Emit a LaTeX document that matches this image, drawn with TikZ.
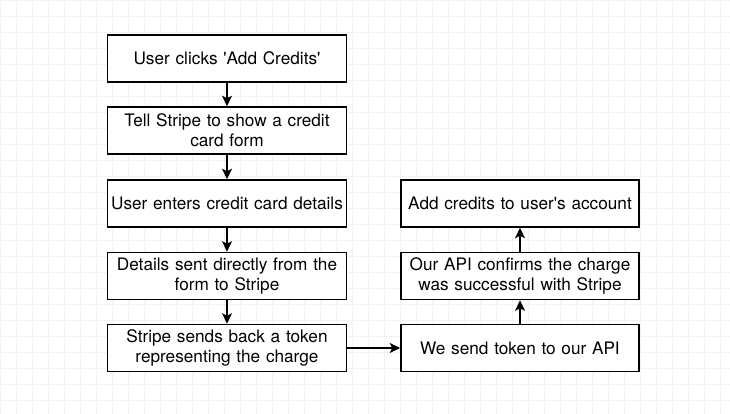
\documentclass[tikz,border=0pt]{standalone}
\usepackage{fontspec}
\setmainfont{TeX Gyre Heros}
\usetikzlibrary{arrows.meta}
\begin{document}
\begin{tikzpicture}[x=1pt,y=-1pt,
  box/.style={draw=black,line width=1.6pt,fill=white,minimum height=47pt,inner sep=0pt,
    align=center,font=\fontsize{17.2}{20}\selectfont},
  lbox/.style={box,minimum width=239pt,text width=236pt},
  rbox/.style={box,minimum width=238pt,text width=235pt},
  arr/.style={line width=1.6pt,-{Stealth[length=10.5pt,width=10pt,inset=2.5pt]}}]
\fill[white] (0,0) rectangle (730,414);
\useasboundingbox (0,0) rectangle (730,414);
\draw[black!5,line width=0.6pt] (0,0) grid[step=16pt] (730,414);
\node[lbox] (n1) at (227,58.5) {User clicks \textquotesingle Add Credits\textquotesingle};
\node[lbox] (n2) at (227,130.5) {Tell Stripe to show a credit\\card form};
\node[lbox] (n3) at (227,203.5) {User enters credit card details};
\node[lbox] (n4) at (227,276) {Details sent directly from the\\form to Stripe};
\node[lbox] (n5) at (227,348) {Stripe sends back a token\\representing the charge};
\node[rbox] (r1) at (520,348) {We send token to our API};
\node[rbox] (r2) at (520,276) {Our API confirms the charge\\was successful with Stripe};
\node[rbox] (r3) at (520,203.5) {Add credits to user\textquotesingle s account};
\draw[arr] (n1) -- (n2);
\draw[arr] (n2) -- (n3);
\draw[arr] (n3) -- (n4);
\draw[arr] (n4) -- (n5);
\draw[arr] (n5) -- (r1);
\draw[arr] (r1) -- (r2);
\draw[arr] (r2) -- (r3);
\end{tikzpicture}
\end{document}
